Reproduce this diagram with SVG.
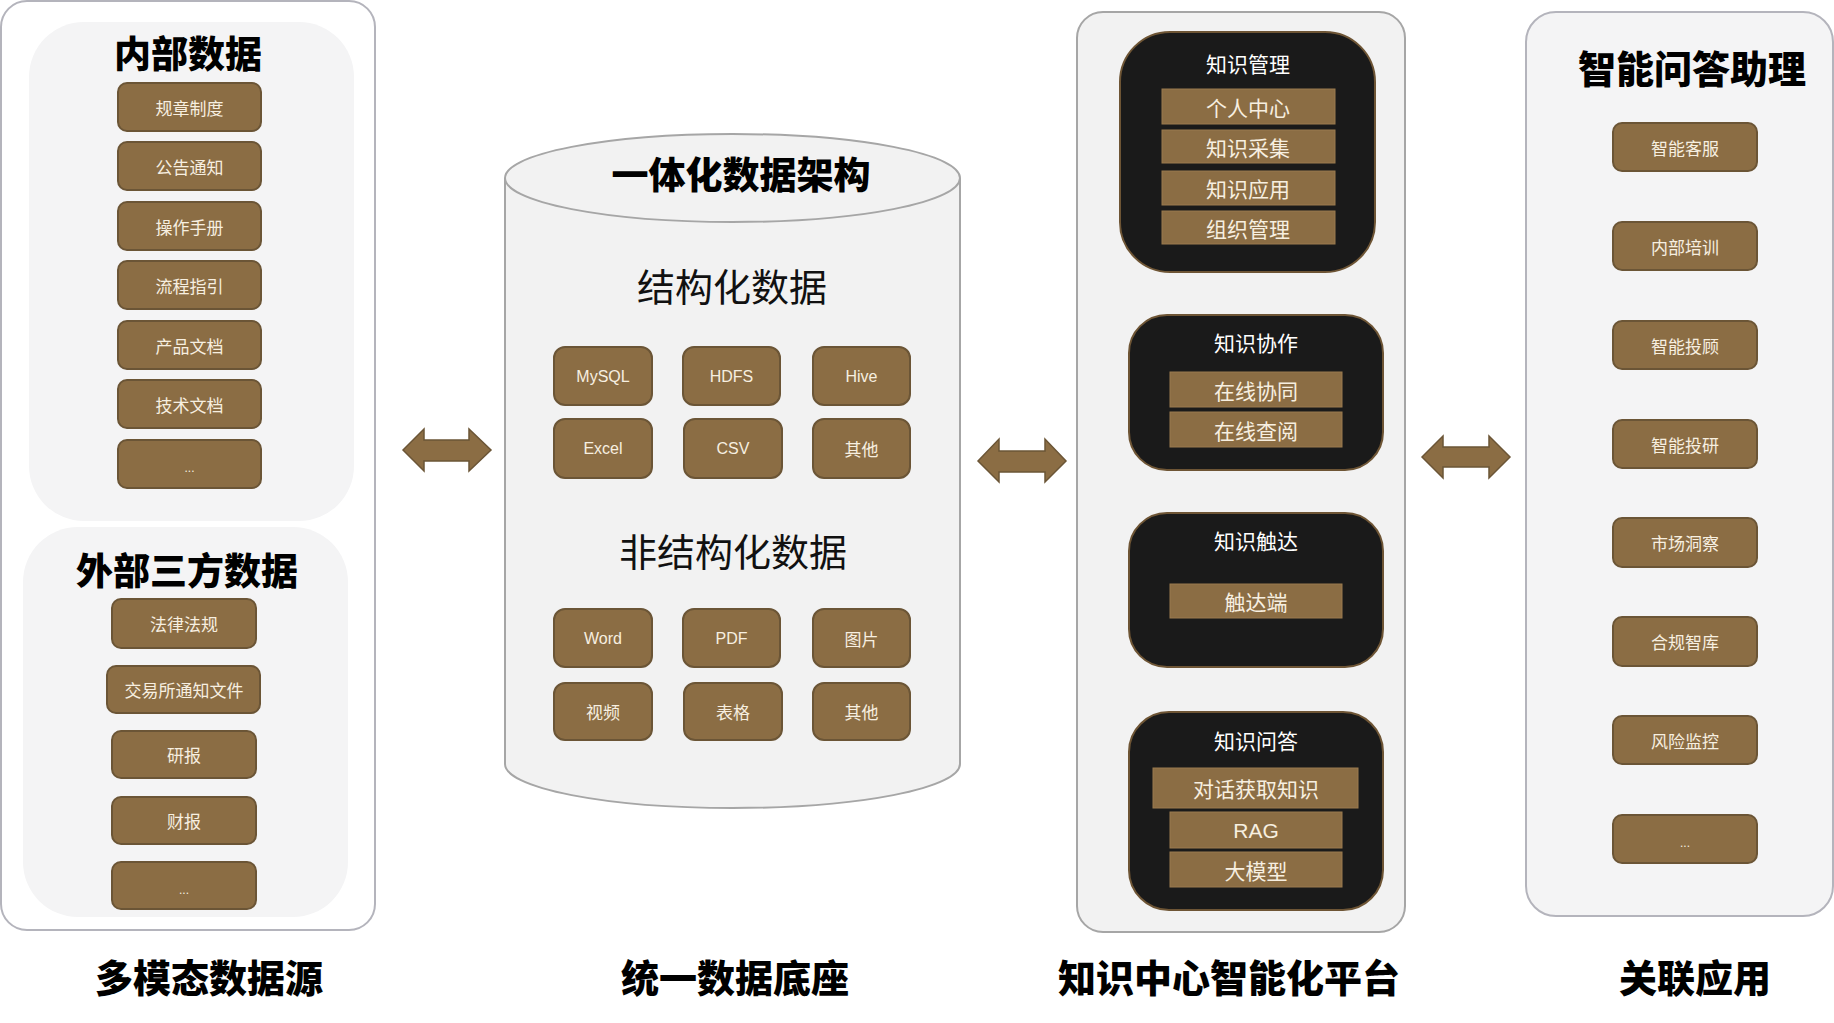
<svg xmlns="http://www.w3.org/2000/svg" width="1834" height="1023" viewBox="0 0 1834 1023">
<style>
.zh{font-family:"Noto Sans CJK SC","Liberation Sans",sans-serif}
.en{font-family:"Liberation Sans","Noto Sans CJK SC",sans-serif}
.panel{fill:#ffffff;stroke:#b4b4bc;stroke-width:2}
.panelg{fill:#f2f2f2;stroke:#a6a6a6;stroke-width:2}
.inner{fill:#f4f4f5;stroke:none}
.btn{fill:#8b6d44;stroke:#6b5536;stroke-width:2}
.bt{fill:#f7efe0;font-size:17px;text-anchor:middle;dominant-baseline:central}
.bte{fill:#f7efe0;font-size:16px;text-anchor:middle;dominant-baseline:central}
.dk{fill:#1a1a1a;stroke:#6e5535;stroke-width:2}
.bar{fill:#8b6d44;stroke:#9a7b4e;stroke-width:1}
.bart{fill:#f7efe0;font-size:21px;text-anchor:middle;dominant-baseline:central}
.dkt{fill:#ffffff;font-size:21px;text-anchor:middle}
.h1{font-size:37px;font-weight:900;fill:#000;text-anchor:middle}
.h2{font-size:38px;fill:#111;text-anchor:middle}
.foot{font-size:38px;font-weight:900;fill:#000;text-anchor:middle}
.arr{fill:#8b6d44;stroke:#6b5536;stroke-width:1.5}
.dots{fill:#f7efe0;font-size:12px;text-anchor:middle;dominant-baseline:central}
</style>

<g id="source-panel">
<rect class="panel" x="1" y="1" width="374" height="929" rx="26"/>
</g>

<g id="internal-data">
<rect class="inner" x="29" y="22" width="325" height="499" rx="55"/>
<text class="zh h1" x="188" y="68">内部数据</text>
<rect class="btn" x="118" y="83" width="143" height="48" rx="9"/><text class="zh bt" x="189.5" y="107">规章制度</text>
<rect class="btn" x="118" y="142" width="143" height="48" rx="9"/><text class="zh bt" x="189.5" y="166">公告通知</text>
<rect class="btn" x="118" y="202" width="143" height="48" rx="9"/><text class="zh bt" x="189.5" y="226">操作手册</text>
<rect class="btn" x="118" y="261" width="143" height="48" rx="9"/><text class="zh bt" x="189.5" y="285">流程指引</text>
<rect class="btn" x="118" y="321" width="143" height="48" rx="9"/><text class="zh bt" x="189.5" y="345">产品文档</text>
<rect class="btn" x="118" y="380" width="143" height="48" rx="9"/><text class="zh bt" x="189.5" y="404">技术文档</text>
<rect class="btn" x="118" y="440" width="143" height="48" rx="9"/><text class="en dots" x="189.5" y="468">...</text>
</g>

<g id="external-data">
<rect class="inner" x="23" y="527" width="325" height="390" rx="55"/>
<text class="zh h1" x="187" y="585">外部三方数据</text>
<rect class="btn" x="112" y="599" width="144" height="49" rx="9"/><text class="zh bt" x="184" y="623.5">法律法规</text>
<rect class="btn" x="107" y="666" width="153" height="47" rx="9"/><text class="zh bt" x="184" y="689.5">交易所通知文件</text>
<rect class="btn" x="112" y="731" width="144" height="47" rx="9"/><text class="zh bt" x="184" y="754.5">研报</text>
<rect class="btn" x="112" y="797" width="144" height="47" rx="9"/><text class="zh bt" x="184" y="820.5">财报</text>
<rect class="btn" x="112" y="862" width="144" height="47" rx="9"/><text class="en dots" x="184" y="890">...</text>
</g>

<g id="unified-data-base">
<path class="panelg" d="M505,178 L505,764 A227.5,44 0 0 0 960,764 L960,178"/>
<ellipse class="panelg" cx="732.5" cy="178" rx="227.5" ry="44"/>
<text class="zh h1" x="741" y="189">一体化数据架构</text>
<text class="zh h2" x="732" y="301">结构化数据</text>
<rect class="btn" x="554" y="347" width="98" height="58" rx="11"/><text class="en bte" x="603" y="376">MySQL</text>
<rect class="btn" x="683" y="347" width="97" height="58" rx="11"/><text class="en bte" x="731.5" y="376">HDFS</text>
<rect class="btn" x="813" y="347" width="97" height="58" rx="11"/><text class="en bte" x="861.5" y="376">Hive</text>
<rect class="btn" x="554" y="419" width="98" height="59" rx="11"/><text class="en bte" x="603" y="448.5">Excel</text>
<rect class="btn" x="684" y="419" width="98" height="59" rx="11"/><text class="en bte" x="733" y="448.5">CSV</text>
<rect class="btn" x="813" y="419" width="97" height="59" rx="11"/><text class="zh bt" x="861.5" y="448.5">其他</text>
<text class="zh h2" x="733" y="566">非结构化数据</text>
<rect class="btn" x="554" y="609" width="98" height="58" rx="11"/><text class="en bte" x="603" y="638">Word</text>
<rect class="btn" x="683" y="609" width="97" height="58" rx="11"/><text class="en bte" x="731.5" y="638">PDF</text>
<rect class="btn" x="813" y="609" width="97" height="58" rx="11"/><text class="zh bt" x="861.5" y="638">图片</text>
<rect class="btn" x="554" y="683" width="98" height="57" rx="11"/><text class="zh bt" x="603" y="711.5">视频</text>
<rect class="btn" x="684" y="683" width="98" height="57" rx="11"/><text class="zh bt" x="733" y="711.5">表格</text>
<rect class="btn" x="813" y="683" width="97" height="57" rx="11"/><text class="zh bt" x="861.5" y="711.5">其他</text>
</g>

<g id="knowledge-platform">
<rect class="panelg" x="1077" y="12" width="328" height="920" rx="26"/>
</g>

<g id="km">
<rect class="dk" x="1120" y="32" width="255" height="240" rx="50"/>
<text class="zh dkt" x="1248" y="72">知识管理</text>
<rect class="bar" x="1162" y="89" width="173" height="35"/><text class="zh bart" x="1248" y="106.5">个人中心</text>
<rect class="bar" x="1162" y="130" width="173" height="33"/><text class="zh bart" x="1248" y="146.5">知识采集</text>
<rect class="bar" x="1162" y="171" width="173" height="34"/><text class="zh bart" x="1248" y="188">知识应用</text>
<rect class="bar" x="1162" y="211" width="173" height="33"/><text class="zh bart" x="1248" y="227.5">组织管理</text>
</g>

<g id="kc">
<rect class="dk" x="1129" y="315" width="254" height="155" rx="38"/>
<text class="zh dkt" x="1256" y="351">知识协作</text>
<rect class="bar" x="1170" y="372" width="172" height="35"/><text class="zh bart" x="1256" y="389.5">在线协同</text>
<rect class="bar" x="1170" y="412" width="172" height="35"/><text class="zh bart" x="1256" y="429.5">在线查阅</text>
</g>

<g id="kr">
<rect class="dk" x="1129" y="513" width="254" height="154" rx="38"/>
<text class="zh dkt" x="1256" y="549">知识触达</text>
<rect class="bar" x="1170" y="584" width="172" height="34"/><text class="zh bart" x="1256" y="601">触达端</text>
</g>

<g id="kqa">
<rect class="dk" x="1129" y="712" width="254" height="198" rx="40"/>
<text class="zh dkt" x="1256" y="749">知识问答</text>
<rect class="bar" x="1153" y="768" width="205" height="40"/><text class="zh bart" x="1256" y="788">对话获取知识</text>
<rect class="bar" x="1170" y="812" width="172" height="36"/><text class="en bart" x="1256" y="830">RAG</text>
<rect class="bar" x="1170" y="852" width="172" height="35"/><text class="zh bart" x="1256" y="869.5">大模型</text>
</g>

<g id="apps">
<rect class="panel" x="1526" y="12" width="307" height="904" rx="30" style="fill:#f4f4f5"/>
<text class="zh h1" x="1692" y="83" style="font-size:38px">智能问答助理</text>
<rect class="btn" x="1613" y="123" width="144" height="48" rx="9"/><text class="zh bt" x="1685" y="147">智能客服</text>
<rect class="btn" x="1613" y="222" width="144" height="48" rx="9"/><text class="zh bt" x="1685" y="246">内部培训</text>
<rect class="btn" x="1613" y="321" width="144" height="48" rx="9"/><text class="zh bt" x="1685" y="345">智能投顾</text>
<rect class="btn" x="1613" y="420" width="144" height="48" rx="9"/><text class="zh bt" x="1685" y="444">智能投研</text>
<rect class="btn" x="1613" y="518" width="144" height="49" rx="9"/><text class="zh bt" x="1685" y="542.5">市场洞察</text>
<rect class="btn" x="1613" y="617" width="144" height="49" rx="9"/><text class="zh bt" x="1685" y="641.5">合规智库</text>
<rect class="btn" x="1613" y="716" width="144" height="48" rx="9"/><text class="zh bt" x="1685" y="740">风险监控</text>
<rect class="btn" x="1613" y="815" width="144" height="48" rx="9"/><text class="en dots" x="1685" y="843">...</text>
</g>

<g id="connectors">
<polygon class="arr" points="403,450 424,429 424,440 469,440 469,429 491,450 469,471 469,461 424,461 424,471"/>
<polygon class="arr" points="978,461 999,439 999,451 1045,451 1045,439 1066,461 1045,482 1045,472 999,472 999,482"/>
<polygon class="arr" points="1422,457 1443,436 1443,447 1489,447 1489,436 1510,457 1489,478 1489,467 1443,467 1443,478"/>
</g>

<g id="footer">
<text class="zh foot" x="209" y="992">多模态数据源</text>
<text class="zh foot" x="735" y="992">统一数据底座</text>
<text class="zh foot" x="1229" y="992">知识中心智能化平台</text>
<text class="zh foot" x="1695" y="992">关联应用</text>
</g>
</svg>
